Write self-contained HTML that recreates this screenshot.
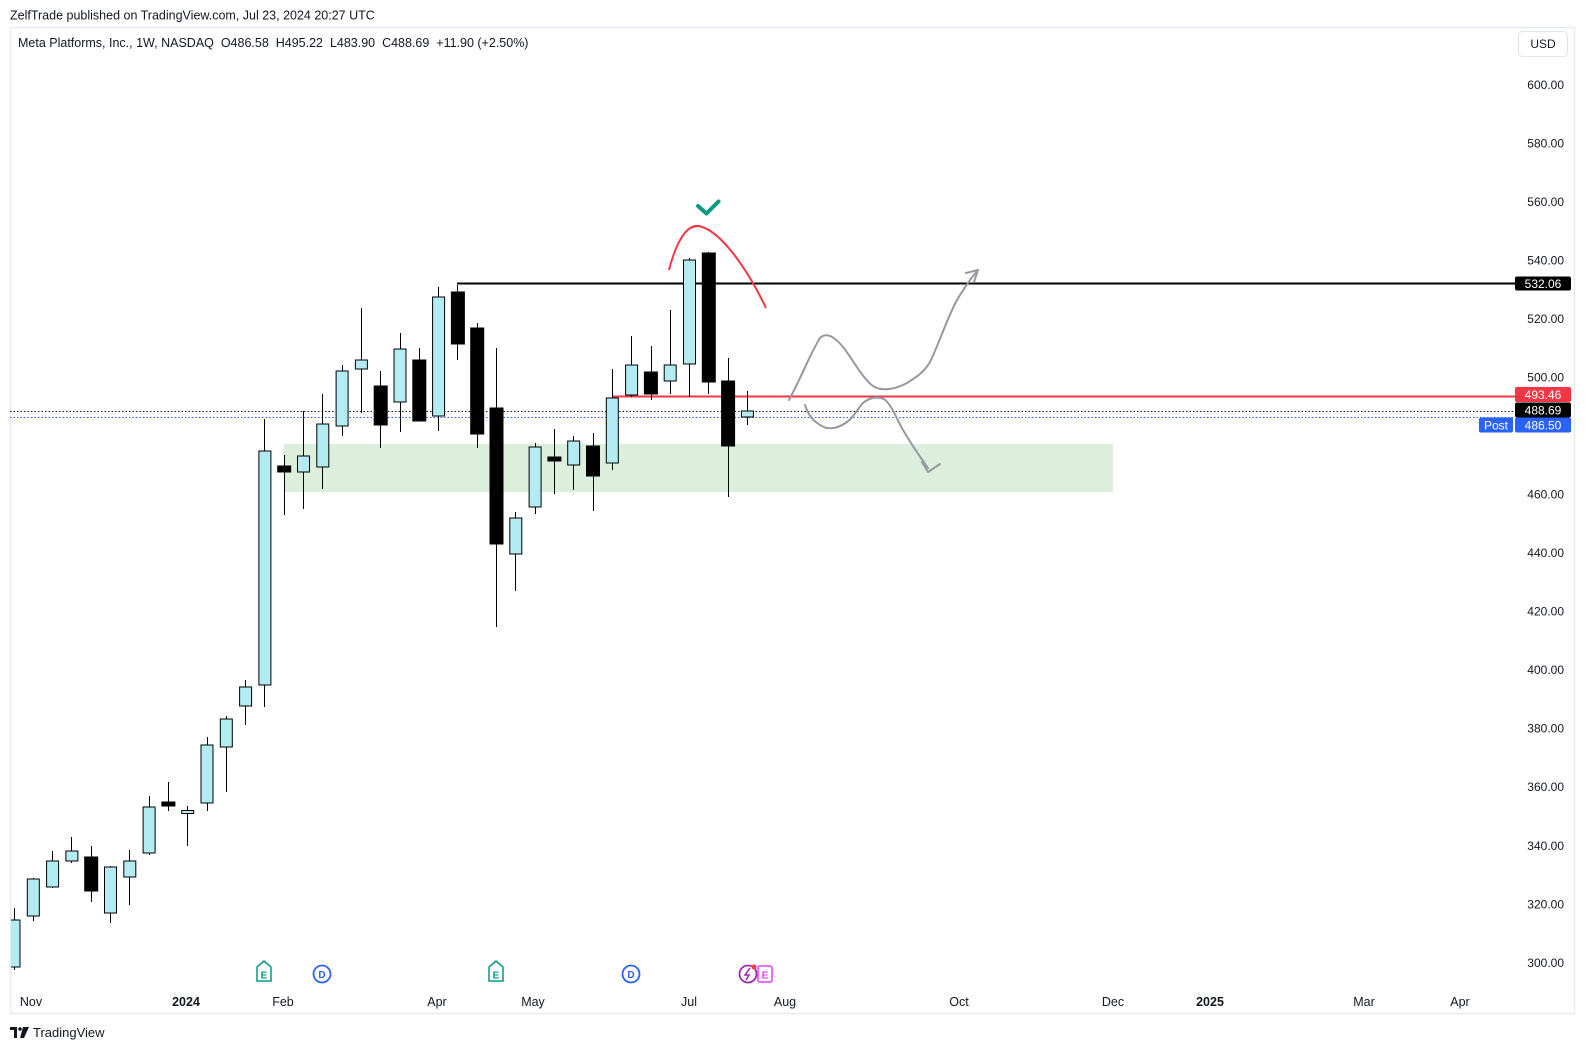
<!DOCTYPE html>
<html><head><meta charset="utf-8"><style>
html,body{margin:0;padding:0;background:#fff;}
svg{display:block;font-family:"Liberation Sans",sans-serif;}
</style></head><body>
<svg width="1585" height="1050" viewBox="0 0 1585 1050" xmlns="http://www.w3.org/2000/svg">
<rect width="1585" height="1050" fill="#fff"/>
<text x="10" y="19.5" font-size="12.5" fill="#131722">ZelfTrade published on TradingView.com, Jul 23, 2024 20:27 UTC</text>
<rect x="10.5" y="27.5" width="1564" height="986" fill="none" stroke="#e8eaef" stroke-width="1.5"/>
<text x="18" y="47" font-size="12.5" fill="#131722" xml:space="preserve">Meta Platforms, Inc., 1W, NASDAQ  O486.58  H495.22  L483.90  C488.69  +11.90 (+2.50%)</text>
<rect x="1518.5" y="31.5" width="49" height="25" rx="4" fill="#fff" stroke="#e0e3eb"/>
<text x="1543" y="48" font-size="12" fill="#131722" text-anchor="middle">USD</text>

<g font-size="12" fill="#131722" text-anchor="end">
<text x="1564" y="89">600.00</text>
<text x="1564" y="147.5">580.00</text>
<text x="1564" y="206">560.00</text>
<text x="1564" y="264.5">540.00</text>
<text x="1564" y="323">520.00</text>
<text x="1564" y="381.5">500.00</text>
<text x="1564" y="498.5">460.00</text>
<text x="1564" y="557">440.00</text>
<text x="1564" y="615.5">420.00</text>
<text x="1564" y="674">400.00</text>
<text x="1564" y="732.5">380.00</text>
<text x="1564" y="791">360.00</text>
<text x="1564" y="850">340.00</text>
<text x="1564" y="908.5">320.00</text>
<text x="1564" y="967">300.00</text>
</g>

<rect x="284" y="444" width="829" height="48" fill="#dcefdc"/>

<line x1="10" y1="411.5" x2="1515" y2="411.5" stroke="#131722" stroke-width="1" stroke-dasharray="1.5 2"/>
<line x1="10" y1="417.5" x2="1515" y2="417.5" stroke="#2962ff" stroke-width="1" stroke-dasharray="1.5 2"/>
<line x1="457" y1="283.5" x2="1515" y2="283.5" stroke="#000" stroke-width="2"/>
<line x1="613" y1="396.5" x2="1515" y2="396.5" stroke="#f23645" stroke-width="2"/>

<defs><clipPath id="cp"><rect x="11" y="28" width="1500" height="985"/></clipPath></defs>
<g clip-path="url(#cp)" stroke="#000" stroke-width="1">
<line x1="14.5" y1="908" x2="14.5" y2="970"/><rect x="8" y="920" width="12" height="47" fill="#b2ebf2"/>
<line x1="33.5" y1="878" x2="33.5" y2="921"/><rect x="27.3" y="879" width="12" height="37" fill="#b2ebf2"/>
<line x1="52.5" y1="851" x2="52.5" y2="888"/><rect x="46.6" y="861" width="12" height="26" fill="#b2ebf2"/>
<line x1="71.5" y1="837" x2="71.5" y2="863"/><rect x="65.9" y="851" width="12" height="10" fill="#b2ebf2"/>
<line x1="91.5" y1="846" x2="91.5" y2="902"/><rect x="84.7" y="857" width="13" height="34" fill="#000"/>
<line x1="110.5" y1="866" x2="110.5" y2="923"/><rect x="104.5" y="867" width="12" height="46" fill="#b2ebf2"/>
<line x1="129.5" y1="850" x2="129.5" y2="905"/><rect x="123.8" y="861" width="12" height="16" fill="#b2ebf2"/>
<line x1="149.5" y1="796" x2="149.5" y2="855"/><rect x="143.1" y="807" width="12" height="46" fill="#b2ebf2"/>
<line x1="168.5" y1="782" x2="168.5" y2="811"/><rect x="161.9" y="802" width="13" height="4" fill="#000"/>
<line x1="187.5" y1="806" x2="187.5" y2="846"/><rect x="181.7" y="810.5" width="12" height="3" fill="#b2ebf2"/>
<line x1="207.5" y1="737" x2="207.5" y2="811"/><rect x="201" y="745" width="12" height="58" fill="#b2ebf2"/>
<line x1="226.5" y1="716" x2="226.5" y2="792"/><rect x="220.3" y="719" width="12" height="28" fill="#b2ebf2"/>
<line x1="245.5" y1="680" x2="245.5" y2="725"/><rect x="239.6" y="687" width="12" height="19" fill="#b2ebf2"/>
<line x1="264.5" y1="419" x2="264.5" y2="707"/><rect x="258.9" y="451" width="12" height="234" fill="#b2ebf2"/>
<line x1="284.5" y1="455" x2="284.5" y2="515"/><rect x="277.7" y="466" width="13" height="6" fill="#000"/>
<line x1="303.5" y1="411" x2="303.5" y2="509"/><rect x="297.5" y="456" width="12" height="16" fill="#b2ebf2"/>
<line x1="322.5" y1="394" x2="322.5" y2="489"/><rect x="316.8" y="424" width="12" height="43" fill="#b2ebf2"/>
<line x1="342.5" y1="365" x2="342.5" y2="436"/><rect x="336.1" y="371" width="12" height="55" fill="#b2ebf2"/>
<line x1="361.5" y1="308" x2="361.5" y2="413"/><rect x="355.4" y="360" width="12" height="9" fill="#b2ebf2"/>
<line x1="380.5" y1="371" x2="380.5" y2="448"/><rect x="374.2" y="386" width="13" height="39" fill="#000"/>
<line x1="400.5" y1="333" x2="400.5" y2="432"/><rect x="394" y="349" width="12" height="53" fill="#b2ebf2"/>
<line x1="419.5" y1="348" x2="419.5" y2="421"/><rect x="412.8" y="360" width="13" height="61" fill="#000"/>
<line x1="438.5" y1="287" x2="438.5" y2="431"/><rect x="432.6" y="297" width="12" height="119" fill="#b2ebf2"/>
<line x1="457.5" y1="285" x2="457.5" y2="360"/><rect x="451.4" y="292" width="13" height="52" fill="#000"/>
<line x1="477.5" y1="323" x2="477.5" y2="448"/><rect x="470.7" y="328" width="13" height="106" fill="#000"/>
<line x1="496.5" y1="348" x2="496.5" y2="627"/><rect x="490" y="408" width="13" height="136" fill="#000"/>
<line x1="515.5" y1="512" x2="515.5" y2="591"/><rect x="509.8" y="518" width="12" height="36" fill="#b2ebf2"/>
<line x1="535.5" y1="443" x2="535.5" y2="514"/><rect x="529.1" y="447" width="12" height="60" fill="#b2ebf2"/>
<line x1="554.5" y1="429" x2="554.5" y2="494"/><rect x="547.9" y="457" width="13" height="4" fill="#000"/>
<line x1="573.5" y1="436" x2="573.5" y2="490"/><rect x="567.7" y="441" width="12" height="24" fill="#b2ebf2"/>
<line x1="593.5" y1="433" x2="593.5" y2="511"/><rect x="586.5" y="446" width="13" height="30" fill="#000"/>
<line x1="612.5" y1="369" x2="612.5" y2="470"/><rect x="606.3" y="398" width="12" height="65" fill="#b2ebf2"/>
<line x1="631.5" y1="336" x2="631.5" y2="397"/><rect x="625.6" y="365" width="12" height="30" fill="#b2ebf2"/>
<line x1="651.5" y1="346" x2="651.5" y2="400"/><rect x="644.4" y="372" width="13" height="22" fill="#000"/>
<line x1="670.5" y1="310" x2="670.5" y2="394"/><rect x="664.2" y="365" width="12" height="16" fill="#b2ebf2"/>
<line x1="689.5" y1="258" x2="689.5" y2="397"/><rect x="683.5" y="260" width="12" height="104" fill="#b2ebf2"/>
<line x1="708.5" y1="252" x2="708.5" y2="394"/><rect x="702.3" y="253" width="13" height="129" fill="#000"/>
<line x1="728.5" y1="358" x2="728.5" y2="497"/><rect x="721.6" y="381" width="13" height="65" fill="#000"/>
<line x1="747.5" y1="391" x2="747.5" y2="425"/><rect x="741.4" y="411" width="12" height="6" fill="#b2ebf2"/>
</g>

<path d="M669,270 C678,235 690,222 702,227 C722,233 748,270 766,308" fill="none" stroke="#f23645" stroke-width="2"/>
<path d="M698,206 L706.5,213.5 L718.5,201.5" fill="none" stroke="#089981" stroke-width="4" stroke-linecap="round" stroke-linejoin="round"/>

<g fill="none" stroke="#9598a1" stroke-width="2" stroke-linecap="round" stroke-linejoin="round">
<path d="M789,400 C800,380 812,350 820,338 C826,332 834,336 843,347 C852,358 862,378 873,386 C882,392 896,389 907,383 C918,376 924,372 930,362 C938,346 948,316 957,300 C963,290 970,279 978,270"/>
<path d="M978,270 L966,273 M978,270 L974,282"/>
<path d="M805,405 C808,415 814,422 822,426 C830,431 840,427 847,422 C853,418 857,410 862,404 C868,398 876,396 884,399 C892,405 896,418 903,430 C910,442 918,454 928,468"/>
<path d="M928,472 L940,464 M928,472 L922,462"/>
</g>

<rect x="1515" y="276.5" width="56" height="14" rx="2" fill="#000"/>
<text x="1543" y="288" font-size="12" fill="#fff" text-anchor="middle">532.06</text>
<rect x="1515" y="387" width="56" height="15" rx="2" fill="#f23645"/>
<text x="1543" y="399" font-size="12" fill="#fff" text-anchor="middle">493.46</text>
<rect x="1515" y="402.5" width="56" height="15" rx="2" fill="#000"/>
<text x="1543" y="414.5" font-size="12" fill="#fff" text-anchor="middle">488.69</text>
<rect x="1515" y="417.5" width="56" height="15" rx="2" fill="#2962ff"/>
<text x="1543" y="429.5" font-size="12" fill="#fff" text-anchor="middle">486.50</text>
<rect x="1479" y="417.5" width="34" height="15" rx="2" fill="#2962ff"/>
<text x="1496" y="429.5" font-size="12" fill="#fff" text-anchor="middle">Post</text>

<g font-size="12.5" text-anchor="end" font-weight="bold">
<path d="M257,967 L257,981 L271,981 L271,967 L264,961 Z" fill="#fff" stroke="#089981" stroke-width="1.5"/>
<text x="264" y="978.5" fill="#089981" text-anchor="middle" font-size="10">E</text>
<circle cx="322" cy="974" r="8.5" fill="#fff" stroke="#2962ff" stroke-width="1.8"/>
<text x="322" y="978" fill="#2962ff" text-anchor="middle" font-size="10">D</text>
<path d="M489,967 L489,981 L503,981 L503,967 L496,961 Z" fill="#fff" stroke="#089981" stroke-width="1.5"/>
<text x="496" y="978.5" fill="#089981" text-anchor="middle" font-size="10">E</text>
<circle cx="631" cy="974" r="8.5" fill="#fff" stroke="#2962ff" stroke-width="1.8"/>
<text x="631" y="978" fill="#2962ff" text-anchor="middle" font-size="10">D</text>
<circle cx="748" cy="974" r="8.5" fill="#fff" stroke="#9c27b0" stroke-width="1.8"/>
<path d="M750,968 L745,975 L749,975 L746,980" fill="none" stroke="#9c27b0" stroke-width="1.5"/>
<circle cx="754" cy="967" r="2.5" fill="#f23645"/>
<rect x="758" y="966" width="14" height="16" rx="2" fill="#fff" stroke="#e040fb" stroke-width="1.5"/>
<text x="765" y="978.5" fill="#e040fb" text-anchor="middle" font-size="10">E</text>
</g>

<g font-size="12.5" fill="#131722" text-anchor="middle">
<text x="31" y="1006">Nov</text>
<text x="186" y="1006" font-weight="bold">2024</text>
<text x="283" y="1006">Feb</text>
<text x="437" y="1006">Apr</text>
<text x="533" y="1006">May</text>
<text x="689" y="1006">Jul</text>
<text x="785" y="1006">Aug</text>
<text x="959" y="1006">Oct</text>
<text x="1113" y="1006">Dec</text>
<text x="1210" y="1006" font-weight="bold">2025</text>
<text x="1364" y="1006">Mar</text>
<text x="1460" y="1006">Apr</text>
</g>

<g fill="#131722">
<path d="M10,1027 L17,1027 L17,1038 L14,1038 L14,1030 L10,1030 Z"/>
<circle cx="20" cy="1029" r="1.8"/>
<path d="M23,1027 L29,1027 L24,1038 L20,1038 Z"/>
</g>
<text x="33" y="1037" font-size="13" fill="#131722">TradingView</text>
</svg>
</body></html>
